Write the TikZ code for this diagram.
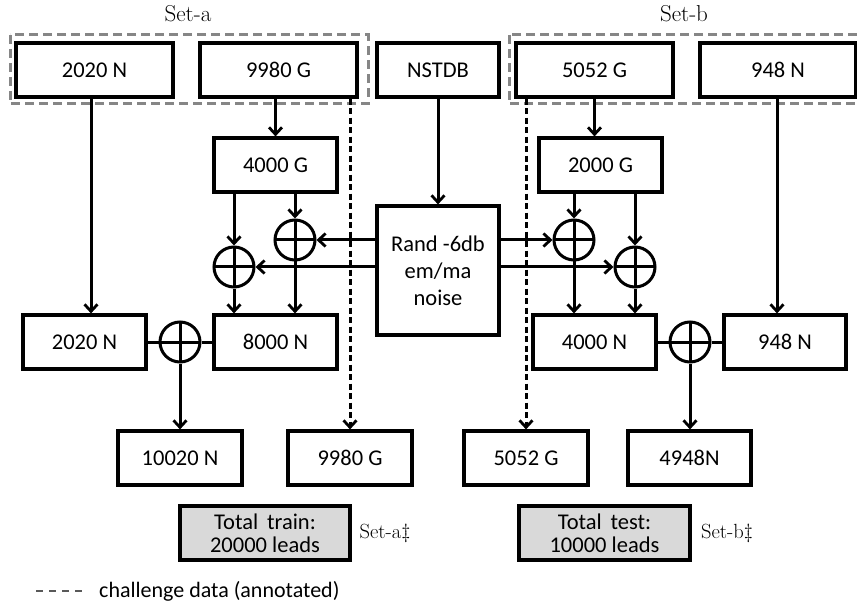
\documentclass[tikz,border=0pt]{standalone}
\usepackage{fontspec}
\newfontfamily\carl{Carlito}
\usetikzlibrary{arrows.meta}
\begin{document}
\begin{tikzpicture}[x=1pt,y=-1pt,
  box/.style={draw, line width=3.2pt, minimum height=54pt, inner sep=0pt, font=\carl\fontsize{22.5}{26}\selectfont, align=center},
  sumc/.style={draw, circle, line width=3pt, minimum size=40pt, inner sep=0pt,
    path picture={\draw[line width=3pt] (path picture bounding box.north) -- (path picture bounding box.south)
      (path picture bounding box.west) -- (path picture bounding box.east);}},
  arr/.style={line width=3pt, -{Straight Barb[length=7pt,width=13pt,line width=2.8pt]}},
  ln/.style={line width=3pt},
  dsh/.style={arr, line width=3pt, dash pattern=on 6pt off 3.5pt},
  setbox/.style={draw=gray!95, line width=3pt, dash pattern=on 9pt off 5pt},
  lbl/.style={font=\fontsize{23}{27}\selectfont, inner sep=0pt},
  lbls/.style={font=\fontsize{20.5}{24}\selectfont, inner sep=0pt}
]
\clip (0,0) rectangle (857,604);
\fill[white] (0,0) rectangle (857,604);

% set frames
\draw[setbox] (10,35) rectangle (368,104);
\draw[setbox] (509,35) rectangle (880,104);
\node[lbl] (seta) at (188,14) {Set-a};
\node[lbl] (setb) at (684,14) {Set-b};

% top row
\node[box, minimum width=157pt] (nTop) at (94.5,70) {2020 N};
\node[box, minimum width=157pt] (gTop) at (278.5,70) {9980 G};
\node[box, minimum width=122pt] (nstdb) at (438,70) {NSTDB};
\node[box, minimum width=157pt] (g5052) at (594.5,70) {5052 G};
\node[box, minimum width=156pt] (n948) at (778,70) {948 N};

% second row
\node[box, minimum width=123pt] (g4000) at (275.5,165) {4000 G};
\node[box, minimum width=123pt] (g2000) at (600.5,165) {2000 G};
\node[box, minimum width=122pt, minimum height=129pt] (noise) at (438,270.5) {Rand -6db\\[1pt]em/ma\\[1pt]noise};

% third row
\node[box, minimum width=123pt] (n2020m) at (84.5,342) {2020 N};
\node[box, minimum width=123pt] (n8000) at (275.5,342) {8000 N};
\node[box, minimum width=123pt] (n4000) at (594.5,342) {4000 N};
\node[box, minimum width=122pt] (n948m) at (785,342) {948 N};

% bottom row
\node[box, minimum width=124pt] (n10020) at (180,458) {10020 N};
\node[box, minimum width=124pt] (g9980b) at (350,458) {9980 G};
\node[box, minimum width=124pt] (g5052b) at (526,458) {5052 G};
\node[box, minimum width=123pt] (n4948) at (689.5,458) {4948N};

% totals
\node[box, fill=black!15, minimum width=170pt] (train) at (265,533) {Total\, train:\\[-3pt]20000 leads};
\node[box, fill=black!15, minimum width=171pt] (test) at (604.5,533) {Total\, test:\\[-3pt]10000 leads};
\node[lbls] (setad) at (385,533) {Set-a\ddag};
\node[lbls] (setbd) at (727,533) {Set-b\ddag};

% summing junctions
\node[sumc] (c1) at (295,240) {};
\node[sumc] (c2) at (234,267) {};
\node[sumc] (c3) at (574,240) {};
\node[sumc] (c4) at (635,267) {};
\node[sumc] (c5) at (180,342) {};
\node[sumc] (c6) at (690,342) {};

\coordinate (xa) at (91,0);
\coordinate (xb) at (777,0);

% connectors
\draw[arr] (nTop.south -| xa) -- (n2020m.north -| xa);
\draw[arr] (n948.south -| xb) -- (n948m.north -| xb);
\draw[arr] (gTop.south -| g4000.north) -- (g4000.north);
\draw[arr] (g5052.south) -- (g5052.south |- g2000.north);
\draw[arr] (nstdb.south) -- (noise.north);

\draw[dsh] (gTop.south -| g9980b.north) -- (g9980b.north);
\draw[dsh] (g5052.south -| g5052b.north) -- (g5052b.north);

\draw[arr] (g4000.south -| c1) -- (c1.north);
\draw[arr] (g4000.south -| c2) -- (c2.north);
\draw[arr] (c1.south) -- (c1.south |- n8000.north);
\draw[arr] (c2.south) -- (c2.south |- n8000.north);
\draw[arr] (g2000.south -| c3) -- (c3.north);
\draw[arr] (g2000.south -| c4) -- (c4.north);
\draw[arr] (c3.south) -- (c3.south |- n4000.north);
\draw[arr] (c4.south) -- (c4.south |- n4000.north);

\draw[arr] (noise.west |- c1) -- (c1.east);
\draw[arr] (noise.west |- c2) -- (c2.east);
\draw[arr] (noise.east |- c3) -- (c3.west);
\draw[arr] (noise.east |- c4) -- (c4.west);

\draw[ln] (n2020m.east) -- (c5.west);
\draw[ln] (c5.east) -- (n8000.west);
\draw[arr] (c5.south) -- (n10020.north);
\draw[ln] (n4000.east) -- (c6.west);
\draw[ln] (c6.east) -- (n948m.west);
\draw[arr] (c6.south) -- (c6.south |- n4948.north);

% legend
\coordinate (l1) at (36,591);
\coordinate (l2) at (82,591);
\draw[black!65, line width=1.4pt, dash pattern=on 7pt off 6pt] (l1) -- (l2);
\node[anchor=west, inner sep=0pt, font=\carl\fontsize{22}{26}\selectfont] (leg) at (99,591) {challenge data (annotated)};
\end{tikzpicture}
\end{document}
